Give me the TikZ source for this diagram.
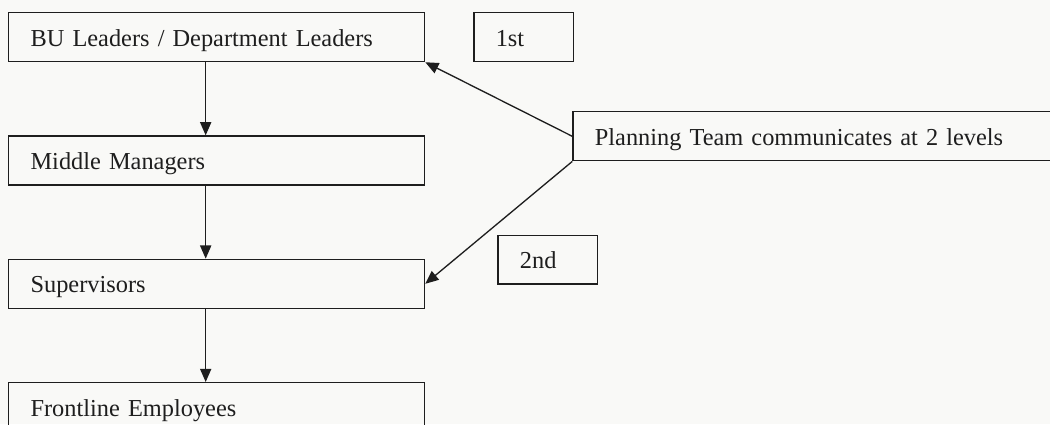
\documentclass[tikz,border=0pt]{standalone}
\usepackage{fontspec}
\setmainfont{Liberation Serif}
\usepackage{xcolor}
\usetikzlibrary{arrows.meta,positioning}
\definecolor{ink}{RGB}{30,30,30}
\definecolor{paper}{RGB}{249,249,247}

\begin{document}
\begin{tikzpicture}[
  node distance=36pt,
  >={Triangle[length=6.5pt,width=5.5pt]},
  box/.style={draw=ink, line width=0.65pt, text=ink, align=left, inner xsep=10.8pt, inner ysep=0pt, minimum height=24.1pt, text width=183.3pt, text height=11pt, text depth=2pt, font=\fontsize{12}{14}\selectfont},
  tag/.style={box, text width=27.5pt},
]
\path[use as bounding box, fill=paper] (0,0) rectangle (517.2pt,-208.9pt);
\node[box,anchor=north west] (bu)  at (3.94pt,-5.91pt) {BU Leaders / Department Leaders};
\node[box,below=of bu]  (mm)  {Middle Managers};
\node[box,below=of mm]  (sup) {Supervisors};
\node[box,below=of sup] (fe)  {Frontline Employees};
\foreach \a/\b in {bu/mm,mm/sup,sup/fe} \draw[->,ink,line width=0.65pt] ([xshift=-5.4pt]\a.south) -- ([xshift=-5.4pt]\b.north);
% planning team and the two levels it talks to
\node[tag,right=23.6pt of bu] (first) {1st};
\node[box,text width=227pt,below right=24.1pt and 72.4pt of bu] (plan) {Planning Team communicates at 2 levels};
\node[tag,below right=24.1pt and 35.5pt of mm] (second) {2nd};
\draw[->,ink,line width=0.65pt] (plan.west) -- (bu.south east);
\draw[->,ink,line width=0.65pt] (plan.south west) -- (sup.east);
\end{tikzpicture}
\end{document}
